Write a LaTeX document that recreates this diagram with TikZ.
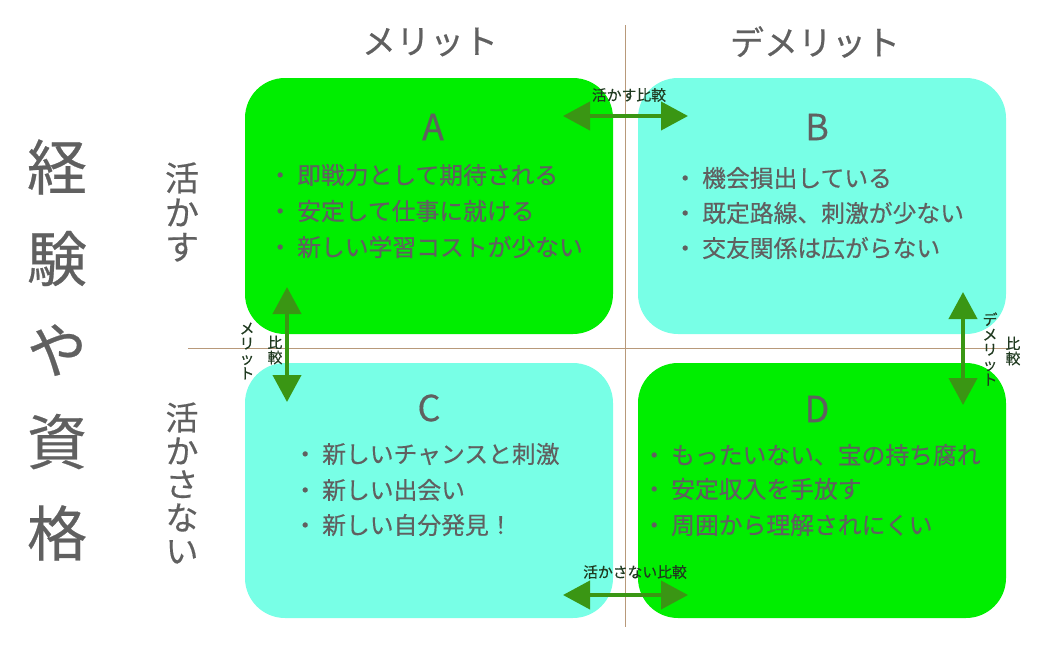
\documentclass[tikz,border=0pt]{standalone}
\usepackage{fontspec}
\setmainfont[FakeBold=0.4]{Noto Sans CJK JP}
\usetikzlibrary{arrows.meta}
\definecolor{txtgray}{HTML}{606060}
\definecolor{boxgreen}{HTML}{00EE00}
\definecolor{boxcyan}{HTML}{78FFE6}
\definecolor{axis}{HTML}{B8997A}
\definecolor{arrgreen}{HTML}{3A9614}
\definecolor{lblgreen}{HTML}{203A20}
\newcommand{\blitem}[1]{\makebox[34pt]{・}#1}
\tikzset{
  quad/.style={rounded corners=40pt, draw=none},
  head/.style={font=\fontsize{34}{40}\selectfont, text=txtgray, inner sep=0pt},
  letter/.style={font=\fontsize{36}{40}\selectfont, text=txtgray, inner sep=0pt},
  itemtxt/.style={font=\fontsize{23.8}{26}\selectfont, text=txtgray, inner sep=0pt, anchor=west},
  cmp/.style={line width=4pt, draw=arrgreen, {Triangle[length=27pt,width=28pt]}-{Triangle[length=27pt,width=28pt]}},
  small/.style={font=\fontsize{14.8}{15}\selectfont, text=lblgreen, inner sep=0pt, align=center},
  axisline/.style={draw=axis, line width=1pt}
}
\begin{document}
\begin{tikzpicture}[x=1pt,y=-1pt]
\useasboundingbox (0,0) rectangle (1052,646);
% axes
\coordinate (vtop) at (625,25);
\coordinate (vbot) at (625,627);
\coordinate (hl) at (188,348);
\coordinate (hr) at (1008,348);
\draw[axisline] (vtop) -- (vbot);
\draw[axisline] (hl) -- (hr);
% quadrants
\fill[quad, fill=boxgreen] (245,78) rectangle (613,334);
\fill[quad, fill=boxcyan] (638,78) rectangle (1006,334);
\fill[quad, fill=boxcyan] (245,363) rectangle (613,618);
\fill[quad, fill=boxgreen] (638,363) rectangle (1006,618);
% headers
\node[head] (hm) at (430,42) {メリット};
\node[head] (hd) at (815,42) {デメリット};
% left titles
\node[font=\fontsize{60}{91.5}\selectfont, text=txtgray, inner sep=0pt, align=center] (title) at (57,350) {経\\験\\や\\資\\格};
\node[font=\fontsize{34}{34.5}\selectfont, text=txtgray, inner sep=0pt, align=center] (ikasu) at (182,212) {活\\か\\す};
\node[font=\fontsize{33}{33.3}\selectfont, text=txtgray, inner sep=0pt, align=center] (ikasanai) at (182,483) {活\\か\\さ\\な\\い};
% letters
\node[letter] (la) at (433,127) {A};
\node[letter] (lb) at (817,127) {B};
\node[letter] (lc) at (429,408) {C};
\node[letter] (ld) at (817,409) {D};
% items A
\node[itemtxt] (a1) at (263,175) {\blitem{即戦力として期待される}};
\node[itemtxt] (a2) at (263,211) {\blitem{安定して仕事に就ける}};
\node[itemtxt] (a3) at (263,247) {\blitem{新しい学習コストが少ない}};
% items B
\node[itemtxt] (b1) at (668,178) {\blitem{機会損出している}};
\node[itemtxt] (b2) at (668,213) {\blitem{既定路線、刺激が少ない}};
\node[itemtxt] (b3) at (668,248) {\blitem{交友関係は広がらない}};
% items C
\node[itemtxt] (c1) at (288,454) {\blitem{新しいチャンスと刺激}};
\node[itemtxt] (c2) at (288,490) {\blitem{新しい出会い}};
\node[itemtxt] (c3) at (288,525) {\blitem{新しい自分発見！}};
% items D
\node[itemtxt] (d1) at (637,455) {\blitem{もったいない、宝の持ち腐れ}};
\node[itemtxt] (d2) at (637,489) {\blitem{安定収入を手放す}};
\node[itemtxt] (d3) at (637,525) {\blitem{周囲から理解されにくい}};
% comparison arrows
\coordinate (t1) at (563,116);
\coordinate (t2) at (688,116);
\draw[cmp] (t1) -- (t2);
\node[small] (tl) at (629,95) {活かす比較};
\coordinate (b1c) at (563,595);
\coordinate (b2c) at (688,595);
\draw[cmp] (b1c) -- (b2c);
\node[small] (bl) at (635,572) {活かさない比較};
\coordinate (l1) at (287,287);
\coordinate (l2) at (287,402);
\draw[cmp] (l1) -- (l2);
\node[small] (ll1) at (247,351) {メ\\リ\\ッ\\ト};
\node[small] (ll2) at (275,350) {比\\較};
\coordinate (r1) at (963,292);
\coordinate (r2) at (963,405);
\draw[cmp] (r1) -- (r2);
\node[small] (rl1) at (990,349) {デ\\メ\\リ\\ッ\\ト};
\node[small] (rl2) at (1013,351) {比\\較};
\end{tikzpicture}
\end{document}
